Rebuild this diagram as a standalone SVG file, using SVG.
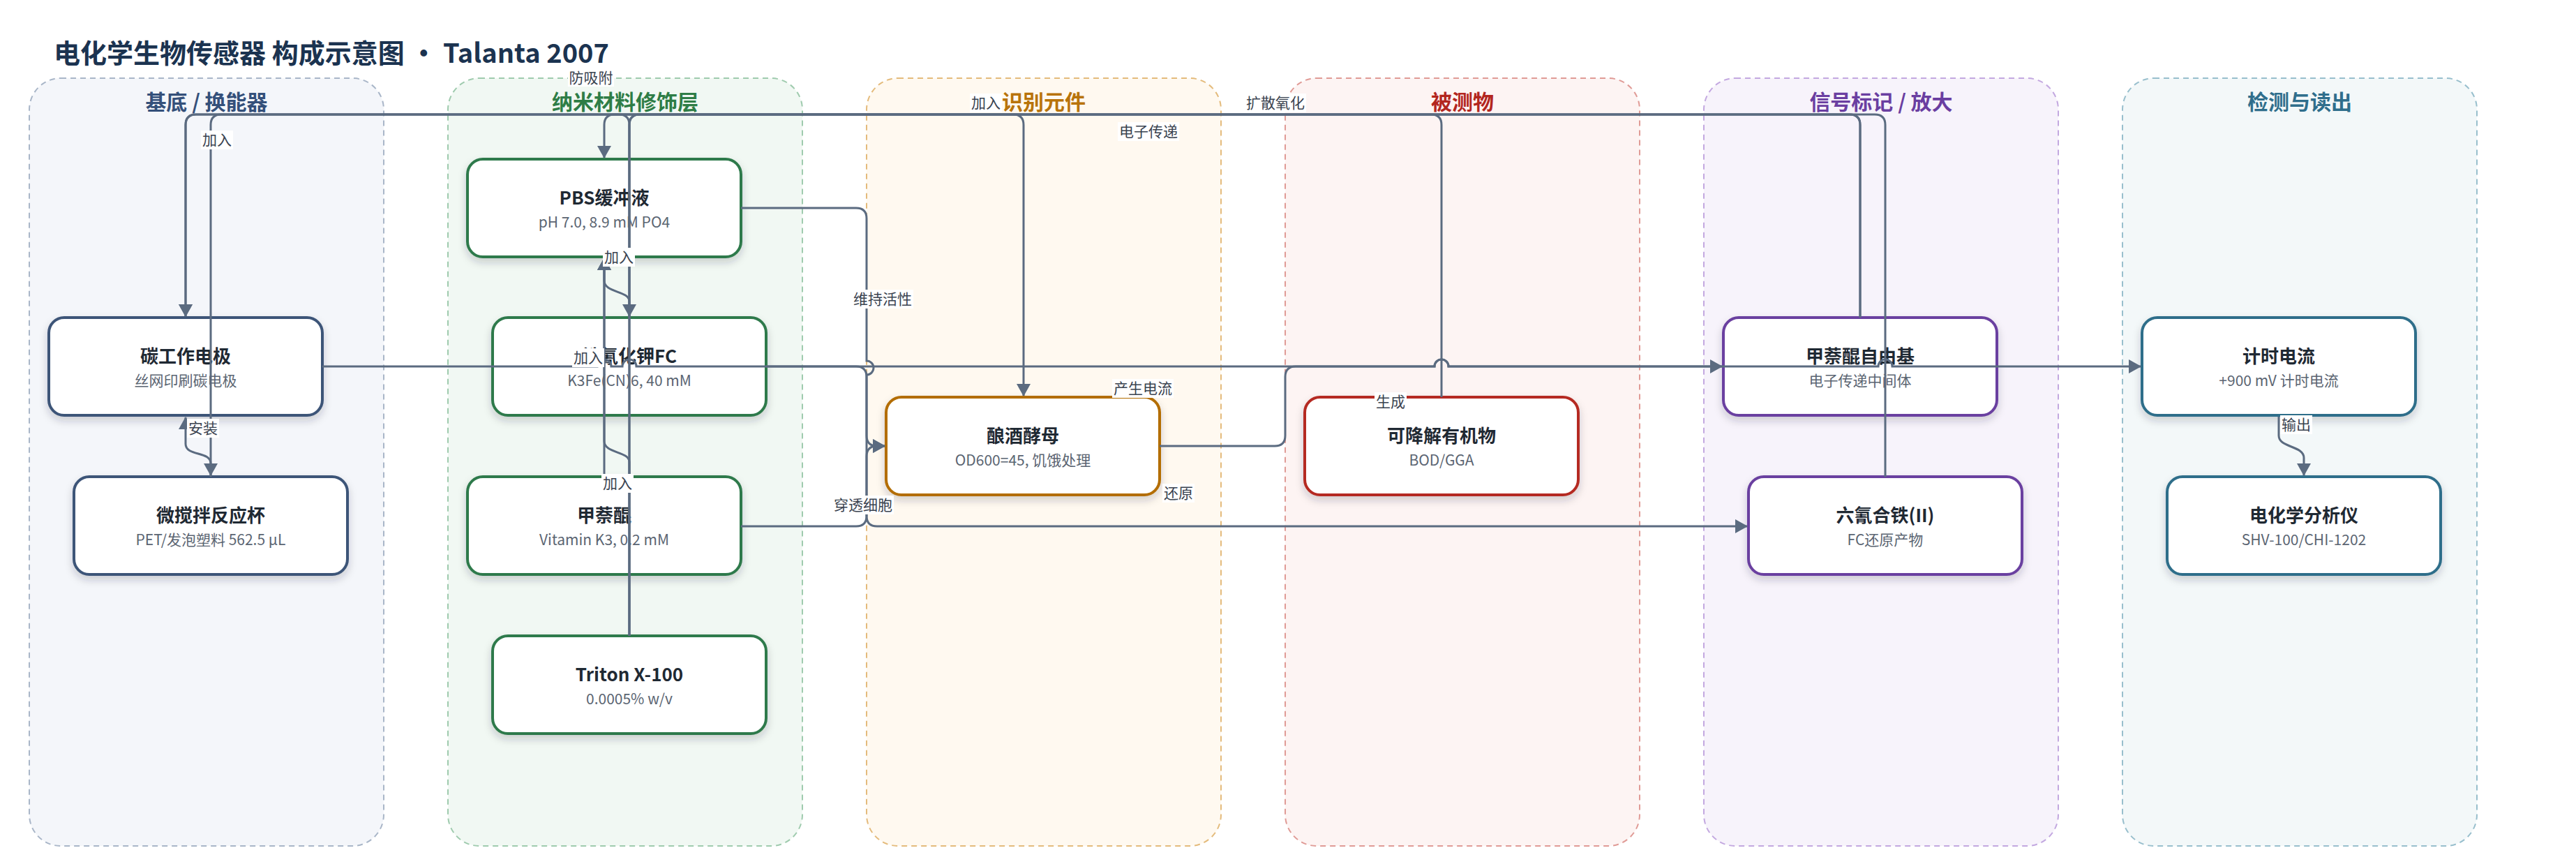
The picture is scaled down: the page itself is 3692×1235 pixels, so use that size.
<svg xmlns="http://www.w3.org/2000/svg" width="3692" height="1235" viewBox="0 0 3692 1235">
<style>
text{font-family:"Noto Sans CJK SC","Noto Sans",sans-serif}
.title{font-size:38px;font-weight:700;fill:#1b3350}
.lane{stroke-width:2;stroke-dasharray:8 6}
.lt{font-size:30px;font-weight:700;text-anchor:middle}
.node rect{fill:#fff;stroke-width:4;filter:url(#sh)}
.t{font-size:26px;font-weight:700;fill:#1f2933;text-anchor:middle}
.s{font-size:21px;fill:#5b6572;text-anchor:middle}
.c1 rect{stroke:#3d5478}.c2 rect{stroke:#2f7a4c}.c3 rect{stroke:#b36d00}.c4 rect{stroke:#b52a22}.c5 rect{stroke:#6b3fa0}.c6 rect{stroke:#2e6e8a}
.edge{fill:none;stroke:#5b6b80;stroke-width:3}
.arr{marker-end:url(#ah)}
.lb rect{fill:#fff}
.lb text{font-size:21px;fill:#3a4350;text-anchor:middle}
</style>
<defs>
<filter id="sh" x="-10%" y="-10%" width="120%" height="135%"><feDropShadow dx="0" dy="6" stdDeviation="6" flood-color="#1f2d3d" flood-opacity="0.2"/></filter>
<marker id="ah" viewBox="0 0 18 20" refX="17" refY="10" markerWidth="18" markerHeight="20" markerUnits="userSpaceOnUse" orient="auto"><path d="M0,0 L18,10 L0,20 z" fill="#5b6b80"/></marker>
</defs>
<rect width="3692" height="1235" fill="#fff"/>
<text class="title" x="77" y="90">电化学生物传感器 构成示意图 · Talanta 2007</text>

<g id="lanes">
<rect class="lane" x="42" y="112" width="508" height="1100" rx="45" fill="#f4f6fa" stroke="#a9b6c8"/>
<rect class="lane" x="642" y="112" width="508" height="1100" rx="45" fill="#f1f8f3" stroke="#9fcbae"/>
<rect class="lane" x="1242" y="112" width="508" height="1100" rx="45" fill="#fff9f0" stroke="#e4bb7c"/>
<rect class="lane" x="1842" y="112" width="508" height="1100" rx="45" fill="#fdf4f3" stroke="#e09b96"/>
<rect class="lane" x="2442" y="112" width="508" height="1100" rx="45" fill="#f7f3fb" stroke="#c3a8e0"/>
<rect class="lane" x="3042" y="112" width="508" height="1100" rx="45" fill="#f3f8f9" stroke="#98bfcd"/>
<text class="lt" x="296" y="157" fill="#34507a">基底 / 换能器</text>
<text class="lt" x="896" y="157" fill="#2e7d46">纳米材料修饰层</text>
<text class="lt" x="1496" y="157" fill="#b8730a">识别元件</text>
<text class="lt" x="2096" y="157" fill="#b3261e">被测物</text>
<text class="lt" x="2696" y="157" fill="#6a3ea1">信号标记 / 放大</text>
<text class="lt" x="3296" y="157" fill="#2f6e8c">检测与读出</text>
</g>

<g id="node-carbon" class="node c1"><rect x="70" y="455" width="392" height="140" rx="22"/><text class="t" x="266" y="520">碳工作电极</text><text class="s" x="266" y="553">丝网印刷碳电极</text></g>
<g id="node-cup" class="node c1"><rect x="106" y="683" width="392" height="140" rx="22"/><text class="t" x="302" y="748">微搅拌反应杯</text><text class="s" x="302" y="781">PET/发泡塑料 562.5 µL</text></g>
<g id="node-pbs" class="node c2"><rect x="670" y="228" width="392" height="140" rx="22"/><text class="t" x="866" y="293">PBS缓冲液</text><text class="s" x="866" y="326">pH 7.0, 8.9 mM PO4</text></g>
<g id="node-fc" class="node c2"><rect x="706" y="455" width="392" height="140" rx="22"/><text class="t" x="902" y="520">铁氰化钾FC</text><text class="s" x="902" y="553">K3Fe(CN)6, 40 mM</text></g>
<g id="node-md" class="node c2"><rect x="670" y="683" width="392" height="140" rx="22"/><text class="t" x="866" y="748">甲萘醌</text><text class="s" x="866" y="781">Vitamin K3, 0.2 mM</text></g>
<g id="node-triton" class="node c2"><rect x="706" y="911" width="392" height="140" rx="22"/><text class="t" x="902" y="976">Triton X-100</text><text class="s" x="902" y="1009">0.0005% w/v</text></g>
<g id="node-yeast" class="node c3"><rect x="1270" y="569" width="392" height="140" rx="22"/><text class="t" x="1466" y="634">酿酒酵母</text><text class="s" x="1466" y="667">OD600=45, 饥饿处理</text></g>
<g id="node-bod" class="node c4"><rect x="1870" y="569" width="392" height="140" rx="22"/><text class="t" x="2066" y="634">可降解有机物</text><text class="s" x="2066" y="667">BOD/GGA</text></g>
<g id="node-mdrad" class="node c5"><rect x="2470" y="455" width="392" height="140" rx="22"/><text class="t" x="2666" y="520">甲萘醌自由基</text><text class="s" x="2666" y="553">电子传递中间体</text></g>
<g id="node-fcred" class="node c5"><rect x="2506" y="683" width="392" height="140" rx="22"/><text class="t" x="2702" y="748">六氰合铁(II)</text><text class="s" x="2702" y="781">FC还原产物</text></g>
<g id="node-ca" class="node c6"><rect x="3070" y="455" width="392" height="140" rx="22"/><text class="t" x="3266" y="520">计时电流</text><text class="s" x="3266" y="553">+900 mV 计时电流</text></g>
<g id="node-ana" class="node c6"><rect x="3106" y="683" width="392" height="140" rx="22"/><text class="t" x="3302" y="748">电化学分析仪</text><text class="s" x="3302" y="781">SHV-100/CHI-1202</text></g>

<g id="connectors">
<path class="edge arr" d="M302,683 V664 C302,646 266,654 266,636 V598"/>
<path class="edge arr" d="M902,911 V179 Q902,164 887,164 H281 Q266,164 266,179 V453"/>
<path class="edge arr" d="M902,911 V179 Q902,164 917,164 H1452 Q1467,164 1467,179 V567"/>
<path class="edge arr" d="M2066,569 V179 Q2066,164 2051,164 H317 Q302,164 302,179 V681"/>
<path class="edge arr" d="M2666,455 V179 Q2666,164 2651,164 H917 Q902,164 902,179 V453"/>
<path class="edge arr" d="M2666,455 V179 Q2666,164 2651,164 H881 Q866,164 866,179 V226"/>
<path class="edge arr" d="M2702,683 V179 Q2702,164 2687,164 H281 Q266,164 266,179 V453"/>
<path class="edge arr" d="M902,455 V432 C902,416 866,420 866,402 V370"/>
<path class="edge arr" d="M866,683 V370"/>
<path class="edge arr" d="M902,911 V662 C902,646 866,650 866,632 V370"/>
<path class="edge arr" d="M1062,298 H1227 Q1242,298 1242,313 V517 A10,10 0 0,1 1242,537 V624 Q1242,639 1257,639 H1268"/>
<path class="edge arr" d="M1062,754 H1227 Q1242,754 1242,739 V654 Q1242,639 1257,639 H1268"/>
<path class="edge arr" d="M1098,525 H1227 Q1242,525 1242,540 V739 Q1242,754 1257,754 H2504"/>
<path class="edge arr" d="M462,525 H856 A10,10 0 0,1 876,525 H892 A10,10 0 0,1 912,525 H2056 A10,10 0 0,1 2076,525 H2692 A10,10 0 0,1 2712,525 H3068"/>
<path class="edge arr" d="M1662,639 H1827 Q1842,639 1842,624 V540 Q1842,525 1857,525 H2056 A10,10 0 0,1 2076,525 H2468"/>
<path class="edge arr" d="M3266,597 V624 C3266,642 3302,638 3302,656 V681"/>
</g>

<g id="edge-labels">
<g class="lb"><rect x="288" y="187" width="46" height="27"/><text x="311" y="208">加入</text></g>
<g class="lb"><rect x="814" y="100" width="66" height="24"/><text x="847" y="119">防吸附</text></g>
<g class="lb"><rect x="864" y="355" width="46" height="27"/><text x="887" y="376">加入</text></g>
<g class="lb"><rect x="820" y="499" width="46" height="27"/><text x="843" y="520">加入</text></g>
<g class="lb"><rect x="862" y="679" width="46" height="27"/><text x="885" y="700">加入</text></g>
<g class="lb"><rect x="1390" y="134" width="46" height="27"/><text x="1413" y="155">加入</text></g>
<g class="lb"><rect x="1221" y="415" width="88" height="27"/><text x="1265" y="436">维持活性</text></g>
<g class="lb"><rect x="1193" y="710" width="88" height="27"/><text x="1237" y="731">穿透细胞</text></g>
<g class="lb"><rect x="1602" y="175" width="88" height="27"/><text x="1646" y="196">电子传递</text></g>
<g class="lb"><rect x="1594" y="543" width="88" height="27"/><text x="1638" y="564">产生电流</text></g>
<g class="lb"><rect x="1666" y="693" width="46" height="27"/><text x="1689" y="714">还原</text></g>
<g class="lb"><rect x="1784" y="134" width="88" height="27"/><text x="1828" y="155">扩散氧化</text></g>
<g class="lb"><rect x="1970" y="562" width="46" height="27"/><text x="1993" y="583">生成</text></g>
<g class="lb"><rect x="268" y="600" width="46" height="27"/><text x="291" y="621">安装</text></g>
<g class="lb"><rect x="3268" y="595" width="46" height="27"/><text x="3291" y="616">输出</text></g>
</g>
</svg>
